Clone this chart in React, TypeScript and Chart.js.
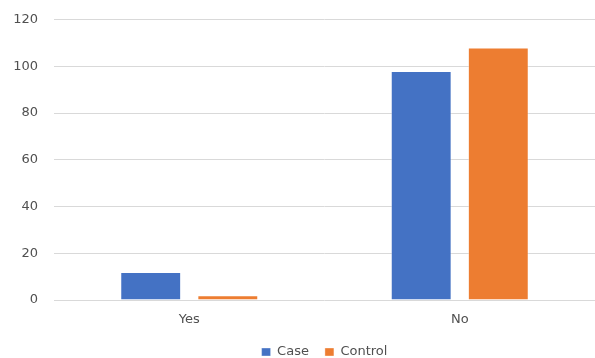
import React, { useEffect, useRef } from "react";
import { Chart, registerables } from "chart.js";

Chart.register(...registerables);

const categories = ["Yes", "No"];
const caseValues = [12, 98];
const controlValues = [2, 108];
const seriesNames = ["Case", "Control"];
const yTicks = [0, 20, 40, 60, 80, 100, 120];

const FONT = "'DejaVu Sans', 'Open Sans', sans-serif";
const TEXT = "#505050";

export default function App() {
  const ref = useRef<HTMLCanvasElement | null>(null);

  useEffect(() => {
    if (!ref.current) return;
    const chart = new Chart(ref.current, {
      type: "bar",
      data: {
        labels: categories,
        datasets: [
          {
            label: seriesNames[0],
            data: caseValues,
            backgroundColor: "#4472C4",
            borderColor: "rgba(255,255,255,0.35)",
            borderWidth: 1,
            barPercentage: 0.79,
            categoryPercentage: 0.57,
          },
          {
            label: seriesNames[1],
            data: controlValues,
            backgroundColor: "#ED7D31",
            borderColor: "rgba(255,255,255,0.35)",
            borderWidth: 1,
            barPercentage: 0.79,
            categoryPercentage: 0.57,
          },
        ],
      },
      options: {
        responsive: false,
        animation: false,
        layout: { padding: { top: 19.5, left: 0, right: 0, bottom: -10.5 } },
        plugins: {
          tooltip: { enabled: false },
          legend: {
            position: "bottom",
            fullSize: false,
            labels: {
              boxWidth: 9,
              boxHeight: 8,
              padding: 16,
              color: TEXT,
              font: { family: FONT, size: 13 },
            },
          },
        },
        scales: {
          x: {
            grid: { display: false, drawTicks: false },
            border: { display: false },
            ticks: { color: TEXT, font: { family: FONT, size: 13 }, padding: 12 },
            afterFit: (s: any) => {
              s.height = 29.5;
            },
          },
          y: {
            min: 0,
            max: 120,
            afterBuildTicks: (s: any) => {
              s.ticks = yTicks.map((v) => ({ value: v }));
            },
            grid: { color: "#d9d9d9", drawTicks: true, tickLength: 12, tickColor: "rgba(0,0,0,0)", lineWidth: 1 },
            border: { display: false },
            ticks: { color: TEXT, font: { family: FONT, size: 13 }, padding: 4 },
            afterFit: (s: any) => {
              s.width = 54;
            },
          },
        },
      },
    });
    return () => chart.destroy();
  }, []);

  return (
    <div style={{ position: "absolute", left: 0, top: 0, width: 595, height: 358, background: "#fff" }}>
      <canvas ref={ref} width={595} height={358} style={{ display: "block" }} />
    </div>
  );
}
